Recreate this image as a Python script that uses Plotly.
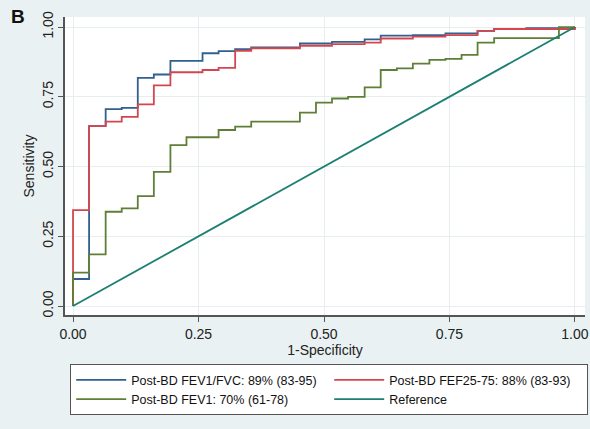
import plotly.graph_objects as go

# ---- data ----
fpr_fev1_fvc = [0, 0, 0.032, 0.065, 0.097, 0.129, 0.161, 0.194, 0.258, 0.290, 0.323, 0.355,
                0.452, 0.516, 0.581, 0.613, 0.677, 0.742, 0.806, 0.839, 0.903, 1.0]
tpr_fev1_fvc = [0, 0.097, 0.645, 0.706, 0.710, 0.818, 0.830, 0.879, 0.906, 0.914, 0.921, 0.927,
                0.941, 0.947, 0.956, 0.969, 0.971, 0.977, 0.986, 0.993, 0.996, 1.0]

fpr_fef2575 = [0, 0, 0.032, 0.065, 0.097, 0.129, 0.161, 0.194, 0.258, 0.290, 0.323, 0.355,
               0.452, 0.516, 0.581, 0.613, 0.677, 0.742, 0.806, 0.839, 1.0]
tpr_fef2575 = [0, 0.344, 0.645, 0.661, 0.678, 0.723, 0.791, 0.838, 0.846, 0.854, 0.915, 0.924,
               0.933, 0.939, 0.944, 0.959, 0.966, 0.971, 0.986, 0.993, 1.0]

fpr_fev1 = [0, 0, 0.032, 0.065, 0.097, 0.129, 0.161, 0.194, 0.226, 0.290, 0.323, 0.355, 0.452,
            0.484, 0.516, 0.548, 0.581, 0.613, 0.645, 0.677, 0.710, 0.742, 0.774, 0.806, 0.839,
            0.968, 1.0]
tpr_fev1 = [0, 0.12, 0.185, 0.338, 0.350, 0.394, 0.481, 0.577, 0.605, 0.631, 0.643, 0.661, 0.693,
            0.729, 0.744, 0.750, 0.784, 0.846, 0.852, 0.869, 0.882, 0.886, 0.900, 0.944, 0.960,
            1.0, 1.0]

fpr_ref = [0, 1]
tpr_ref = [0, 1]

labels = ["Post-BD FEV1/FVC: 89% (83-95)", "Post-BD FEF25-75: 88% (83-93)",
          "Post-BD FEV1: 70% (61-78)", "Reference"]
colors = ["#2f6090", "#d4464f", "#5f7f36", "#1b7f72"]

tick_vals = [0, 0.25, 0.5, 0.75, 1.0]
tick_text = ["0.00", "0.25", "0.50", "0.75", "1.00"]

FONT = "Liberation Sans, Arial, sans-serif"
BG = "#e9f1f2"
GRID = "#e6eef0"

fig = go.Figure()
series = [(fpr_fev1_fvc, tpr_fev1_fvc, "hv"), (fpr_fef2575, tpr_fef2575, "hv"),
          (fpr_fev1, tpr_fev1, "hv"), (fpr_ref, tpr_ref, "linear")]
for (xs, ys, shp), name, col in zip(series, labels, colors):
    fig.add_trace(go.Scatter(x=xs, y=ys, mode="lines", name=name,
                             line=dict(color=col, width=1.8, shape=shp)))

fig.update_layout(
    width=590, height=429,
    paper_bgcolor=BG, plot_bgcolor="white",
    margin=dict(l=65, r=5, t=17, b=114, autoexpand=False),
    font=dict(family=FONT, size=13, color="#222"),
    showlegend=True,
    legend=dict(orientation="h", x=0.01, xanchor="left", y=-0.165, yanchor="top",
                bgcolor="white", bordercolor="#555", borderwidth=1,
                itemwidth=50, entrywidth=193, entrywidthmode="pixels",
                font=dict(family=FONT, size=12.5, color="#111"), traceorder="normal"),
    annotations=[dict(text="<b>B</b>", x=-0.107, y=1.045, xref="paper", yref="paper",
                      xanchor="left", yanchor="top", showarrow=False,
                      font=dict(family=FONT, size=19, color="#111"))],
)

fig.update_xaxes(range=[-0.016, 1.02], tickvals=tick_vals, ticktext=tick_text,
                 showline=True, linecolor="#555", linewidth=1.5, ticks="outside",
                 ticklen=5, tickcolor="#555", showgrid=True, gridcolor=GRID, zeroline=False,
                 tickfont=dict(size=14, color="#222"),
                 title=dict(text="1-Specificity", font=dict(size=14, color="#222"), standoff=4))
fig.update_yaxes(range=[-0.032, 1.036], tickvals=tick_vals, ticktext=tick_text,
                 showline=True, linecolor="#555", linewidth=1.5, ticks="outside",
                 ticklen=5, tickcolor="#555", showgrid=True, gridcolor=GRID, zeroline=False,
                 tickangle=-90, tickfont=dict(size=14, color="#222"),
                 title=dict(text="Sensitivity", font=dict(size=14, color="#222"), standoff=2))

fig.write_html("out.html", config={"displayModeBar": False},
               post_script="document.body.style.margin='0px';document.body.style.overflow='hidden';")
